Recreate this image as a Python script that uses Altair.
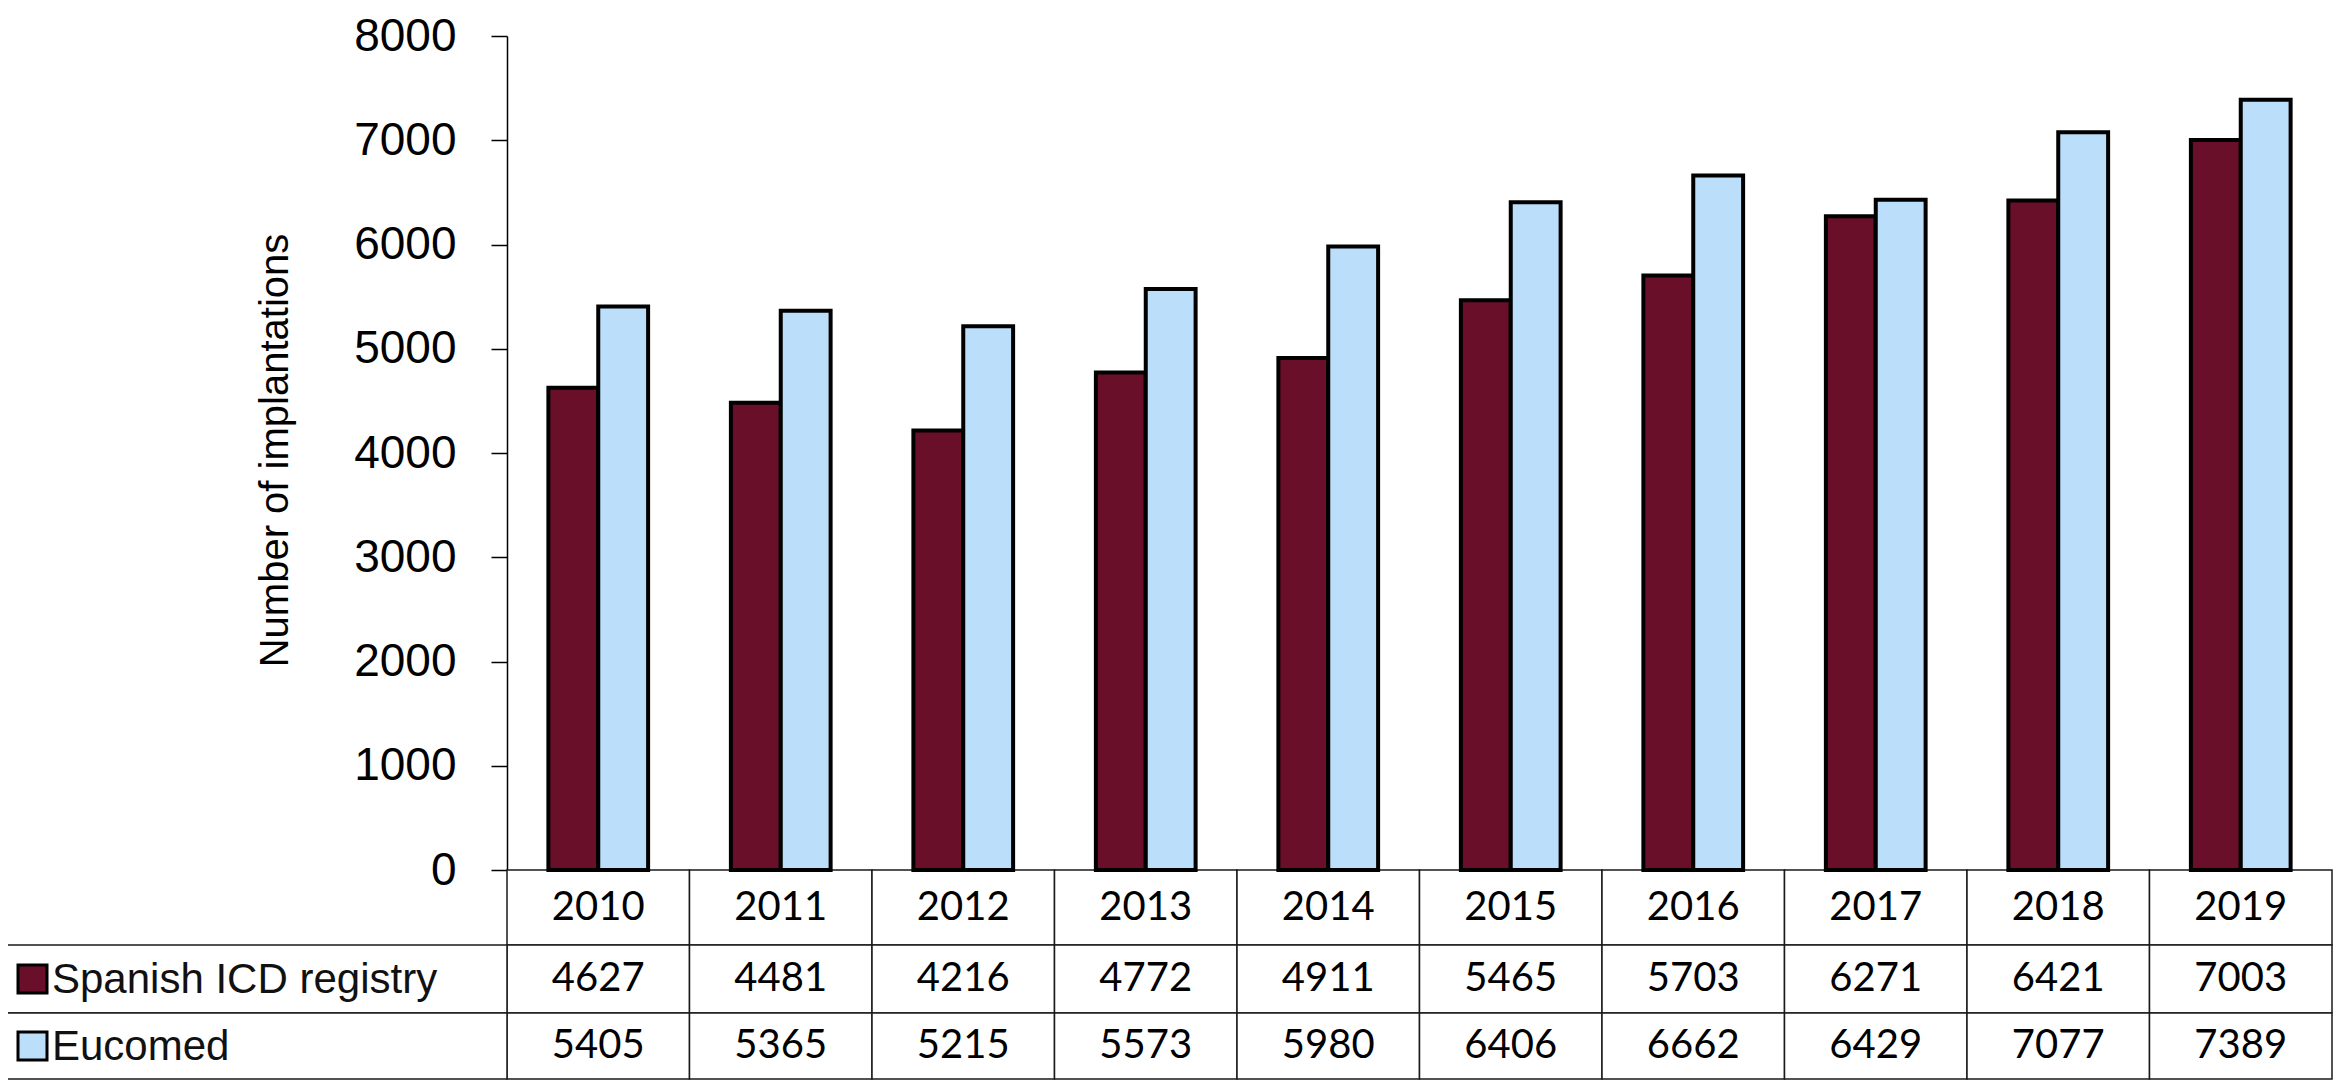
import altair as alt
import pandas as pd

years = ["2010", "2011", "2012", "2013", "2014", "2015", "2016", "2017", "2018", "2019"]
spanish = [4627, 4481, 4216, 4772, 4911, 5465, 5703, 6271, 6421, 7003]
eucomed = [5405, 5365, 5215, 5573, 5980, 6406, 6662, 6429, 7077, 7389]
series = ["Spanish ICD registry", "Eucomed"]
colors = ["#6A0F2A", "#BBDEFA"]
y_ticks = [0, 1000, 2000, 3000, 4000, 5000, 6000, 7000, 8000]

long_df = pd.DataFrame(
    [{"year": y, "series": series[0], "value": v} for y, v in zip(years, spanish)]
    + [{"year": y, "series": series[1], "value": v} for y, v in zip(years, eucomed)]
)
years_df = pd.DataFrame({"year": years})

PLOT_W, PLOT_H = 1825, 834
GRID = "#1a1a1a"
ARIAL = "Liberation Sans"
NUMF = "Lato"

xscale = alt.Scale(domain=years, paddingInner=0, paddingOuter=0)
X = alt.X("year:N", scale=xscale, axis=None)

# table row geometry (pixels relative to plot origin)
rows = [(834, 909), (909, 977), (977, 1043)]

layers = []

# year row cells
layers.append(
    alt.Chart(years_df).mark_rect(fill="white", stroke=GRID, strokeWidth=1.5).encode(
        x=X, y=alt.value(rows[0][0]), y2=alt.value(rows[0][1])
    )
)
# series rows cells + label cells
for i, (name, vals) in enumerate(zip(series, [spanish, eucomed])):
    r0, r1 = rows[i + 1]
    df = pd.DataFrame({"year": years, "value": vals})
    layers.append(
        alt.Chart(df).mark_rect(fill="white", stroke=GRID, strokeWidth=1.5).encode(
            x=X, y=alt.value(r0), y2=alt.value(r1)
        )
    )
    lab = pd.DataFrame({"series": [name]})
    layers.append(
        alt.Chart(lab).mark_rect(fill="white", stroke=GRID, strokeWidth=1.5).encode(
            x=alt.value(-502), x2=alt.value(0), y=alt.value(r0), y2=alt.value(r1)
        )
    )

# bars
bars = alt.Chart(long_df).mark_bar(stroke="black", strokeWidth=4, strokeJoin="miter").encode(
    x=X,
    xOffset=alt.XOffset("series:N", scale=alt.Scale(domain=series, paddingInner=0, paddingOuter=0.83)),
    y=alt.Y(
        "value:Q",
        scale=alt.Scale(domain=[0, 8000], nice=False, zero=True),
        axis=alt.Axis(
            values=y_ticks,
            format="d",
            grid=False,
            domain=True,
            domainColor="black",
            domainWidth=1.5,
            ticks=True,
            tickColor="black",
            tickWidth=1.5,
            tickSize=16,
            labelFont=ARIAL,
            labelFontSize=46,
            labelColor="black",
            labelPadding=35,
            labelFlush=False,
            labelOverlap=False,
            title="Number of implantations",
            titleFont=ARIAL,
            titleFontSize=40,
            titleFontWeight="normal",
            titleColor="black",
            titleAngle=270,
            titleAlign="center",
            titleBaseline="middle",
            titleX=-232,
            titleY=414,
        ),
    ),
    color=alt.Color("series:N", scale=alt.Scale(domain=series, range=colors), legend=None),
)
layers.append(bars)

# year labels
layers.append(
    alt.Chart(years_df).mark_text(font=NUMF, fontSize=40, color="black", baseline="middle").encode(
        x=X, y=alt.value((rows[0][0] + rows[0][1]) / 2), text="year:N"
    )
)

# values + legend entries
for i, (name, vals) in enumerate(zip(series, [spanish, eucomed])):
    r0, r1 = rows[i + 1]
    cy = (r0 + r1) / 2
    df = pd.DataFrame({"year": years, "value": vals})
    layers.append(
        alt.Chart(df).mark_text(font=NUMF, fontSize=40, color="black", baseline="middle").encode(
            x=X, y=alt.value(cy), text=alt.Text("value:Q", format="d")
        )
    )
    lab = pd.DataFrame({"series": [name]})
    layers.append(
        alt.Chart(lab).mark_rect(fill=colors[i], stroke="black", strokeWidth=3).encode(
            x=alt.value(-489), x2=alt.value(-460), y=alt.value(cy - 14), y2=alt.value(cy + 14)
        )
    )
    layers.append(
        alt.Chart(lab).mark_text(font=ARIAL, fontSize=42, color="#111111", align="left", baseline="middle").encode(
            x=alt.value(-455), y=alt.value(cy + 1), text="series:N"
        )
    )

chart = (
    alt.layer(*layers)
    .properties(
        width=PLOT_W,
        height=PLOT_H,
        autosize=alt.AutoSizeParams(type="none"),
        padding={"left": 499, "top": 28, "right": 1, "bottom": 210},
        background="white",
    )
    .configure_view(stroke=None)
)

chart.save("out.html", embed_options={"renderer": "svg", "actions": False})
